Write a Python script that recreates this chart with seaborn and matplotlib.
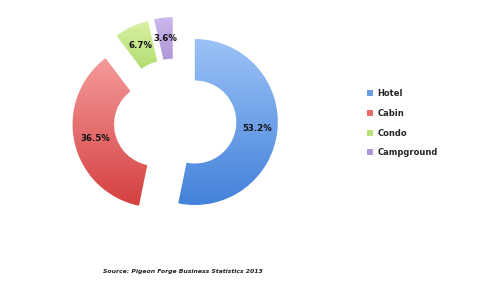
import numpy as np
import matplotlib
matplotlib.use("Agg")
import matplotlib.pyplot as plt
import matplotlib.colors as mcolors
from matplotlib.patches import Patch
import seaborn as sns

categories = ["Hotel", "Cabin", "Condo", "Campground"]
shares = [53.2, 36.5, 6.7, 3.6]
top_colors = ["#9cc2f7", "#f59a9a", "#d9f1a4", "#cbb8ec"]
bottom_colors = ["#4281da", "#d54040", "#99cd4c", "#9479c4"]
mid_colors = ["#6d9fe6", "#e86a6a", "#b8df78", "#ad95d6"]
source_text = "Source: Pigeon Forge Business Statistics 2013"

sns.set_theme(style="white")
plt.rcParams['font.family'] = ['DejaVu Sans']

W, H = 492, 289
fig = plt.figure(figsize=(W / 100, H / 100), dpi=100)
fig.patch.set_facecolor("white")

R = 83.0
cx, cy = 175, 120
half = 130
ax = fig.add_axes([(cx - half) / W, (H - cy - half) / H, 2 * half / W, 2 * half / H])
L = half / R

wedges, texts, autotexts = ax.pie(
    shares, startangle=90, counterclock=False, radius=1.0,
    explode=[0.24] * 4, colors=mid_colors,
    wedgeprops=dict(width=0.5, linewidth=0, edgecolor="none"),
    autopct="%1.1f%%", pctdistance=0.75,
    textprops=dict(fontsize=6.2, fontweight="bold", color="#111111"),
)
ax.set_xlim(-L, L)
ax.set_ylim(-L, L)
ax.set_aspect("equal")
ax.axis("off")

# vertical gradient fill clipped to each wedge
for w, tc, bc in zip(wedges, top_colors, bottom_colors):
    path = w.get_path().transformed(w.get_patch_transform())
    verts = path.vertices
    xmin, ymin = verts.min(axis=0)
    xmax, ymax = verts.max(axis=0)
    cmap = mcolors.LinearSegmentedColormap.from_list("g", [bc, tc])
    grad = np.linspace(0, 1, 256).reshape(-1, 1)
    im = ax.imshow(grad, cmap=cmap, origin="lower",
                   extent=[xmin, xmax, ymin, ymax], aspect="auto",
                   zorder=w.get_zorder(), interpolation="bilinear")
    im.set_clip_path(w)
    w.set_alpha(0)
for t in autotexts:
    t.set_zorder(5)
ax.set_xlim(-L, L)
ax.set_ylim(-L, L)

handles = [Patch(facecolor=c, edgecolor="none") for c in mid_colors]
fig.legend(handles, categories, loc="upper left",
           bbox_to_anchor=(363 / W, 1 - 85 / H), frameon=False,
           prop=dict(size=6, weight="bold"), handlelength=0.75, handleheight=0.75,
           handletextpad=0.45, labelspacing=1.28, borderpad=0)

fig.text(103 / W, 1 - 272 / H, source_text, fontsize=4.4, fontweight="bold",
         fontstyle="italic", color="#222222", va="center", ha="left")

fig.savefig("out.png", dpi=100, facecolor="white")
